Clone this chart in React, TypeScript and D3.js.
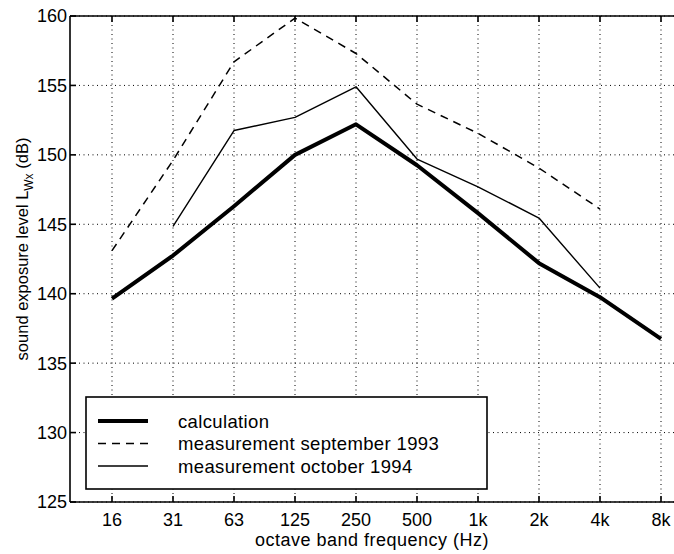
import React from "react";
import * as d3 from "d3";

const categories = ["16", "31", "63", "125", "250", "500", "1k", "2k", "4k", "8k"];
const yTicks = [125, 130, 135, 140, 145, 150, 155, 160];
const calculation = [139.65, 142.75, 146.3, 150.0, 152.2, 149.25, 145.8, 142.2, 139.75, 136.75];
const sept1993: (number | null)[] = [143.1, 149.6, 156.7, 159.85, 157.3, 153.65, 151.55, 149.05, 146.1, null];
const oct1994: (number | null)[] = [null, 144.85, 151.75, 152.7, 154.9, 149.7, 147.7, 145.45, 140.4, null];
const legendLabels = ["calculation", "measurement september 1993", "measurement october 1994"];

const W = 674;
const H = 554;
const LEFT = 70;
const TOP = 16;
const BOTTOM = 502;
const FONT = "'Liberation Sans', Arial, Helvetica, sans-serif";

export default function App() {
  const x = d3.scaleLinear().domain([0, 9]).range([112, 661]);
  const y = d3.scaleLinear().domain([125, 160]).range([BOTTOM, TOP]);
  const line = d3
    .line<number | null>()
    .defined((d) => d !== null)
    .x((_, i) => x(i))
    .y((d) => y(d as number));

  const right = W + 10;
  const legend = { x0: 86, y0: 397, x1: 487, y1: 489 };
  const rows = [421, 443.5, 466];
  const styles = [
    { w: 4, dash: undefined as string | undefined },
    { w: 1.5, dash: "8,6" },
    { w: 1.4, dash: undefined as string | undefined },
  ];

  return (
    <svg
      width={W}
      height={H}
      style={{ position: "absolute", left: 0, top: 0, background: "#fff" }}
      fontFamily={FONT}
    >
      <rect x={0} y={0} width={W} height={H} fill="#fff" />
      {/* grid */}
      <g stroke="#000" strokeWidth={1} strokeDasharray="1,3.5">
        {categories.map((c, i) => (
          <line key={"gx" + c} x1={x(i)} x2={x(i)} y1={TOP} y2={BOTTOM} />
        ))}
        {yTicks.map((t) => (
          <line key={"gy" + t} x1={LEFT} x2={right} y1={y(t)} y2={y(t)} />
        ))}
      </g>
      {/* axes */}
      <g stroke="#000" strokeWidth={1.6} fill="none">
        <line x1={LEFT} x2={right} y1={TOP} y2={TOP} />
        <line x1={LEFT} x2={right} y1={BOTTOM} y2={BOTTOM} />
        <line x1={LEFT} x2={LEFT} y1={TOP} y2={BOTTOM} />
        {categories.map((c, i) => (
          <g key={"tx" + c}>
            <line x1={x(i)} x2={x(i)} y1={BOTTOM} y2={BOTTOM - 6} />
            <line x1={x(i)} x2={x(i)} y1={TOP} y2={TOP + 6} />
          </g>
        ))}
        {yTicks.map((t) => (
          <line key={"ty" + t} x1={LEFT} x2={LEFT + 6} y1={y(t)} y2={y(t)} />
        ))}
      </g>
      {/* series */}
      <g fill="none" stroke="#000" strokeLinejoin="round">
        <path d={line(sept1993) || ""} strokeWidth={1.5} strokeDasharray="8,6" />
        <path d={line(oct1994) || ""} strokeWidth={1.4} />
        <path d={line(calculation) || ""} strokeWidth={4} />
      </g>
      {/* tick labels */}
      <g fontSize={18} fill="#000">
        {yTicks.map((t) => (
          <text key={"ly" + t} x={LEFT - 3} y={y(t)} dy="0.36em" textAnchor="end">
            {t}
          </text>
        ))}
        {categories.map((c, i) => (
          <text key={"lx" + c} x={x(i)} y={525.5} textAnchor="middle">
            {c}
          </text>
        ))}
        <text x={372} y={545.5} textAnchor="middle" letterSpacing={0.5}>
          octave band frequency (Hz)
        </text>
        <text transform="translate(28,249) rotate(-90)" textAnchor="middle" fontSize={16.5}>
          sound exposure level L
          <tspan fontSize={12} dy={4.5}>Wx</tspan>
          <tspan dy={-4.5}> (dB)</tspan>
        </text>
      </g>
      {/* legend */}
      <g>
        <rect
          x={legend.x0}
          y={legend.y0}
          width={legend.x1 - legend.x0}
          height={legend.y1 - legend.y0}
          fill="#fff"
          stroke="#000"
          strokeWidth={1.6}
        />
        {legendLabels.map((lab, i) => (
          <g key={lab}>
            <line
              x1={98}
              x2={148}
              y1={rows[i]}
              y2={rows[i]}
              stroke="#000"
              strokeWidth={styles[i].w}
              strokeDasharray={styles[i].dash}
            />
            <text
              x={178}
              y={rows[i]}
              dy="0.36em"
              fontSize={18.5}
              letterSpacing={0.35}
              fill="#000"
            >
              {lab}
            </text>
          </g>
        ))}
      </g>
    </svg>
  );
}
